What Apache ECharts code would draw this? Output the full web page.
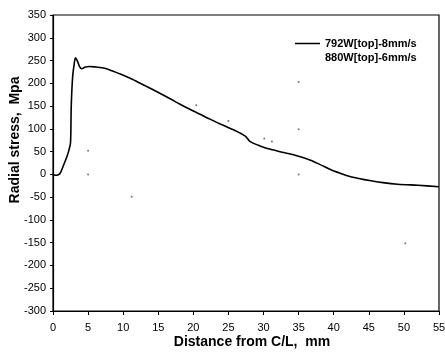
<!DOCTYPE html>
<html><head><meta charset="utf-8">
<script src="https://cdn.jsdelivr.net/npm/echarts@6/dist/echarts.min.js"></script>
<style>html,body{margin:0;padding:0;background:#fff}#c{width:445px;height:352px}</style>
</head><body><div id="c"></div>
<script>
var xTicks = [0,5,10,15,20,25,30,35,40,45,50,55];
var yTicks = [-300,-250,-200,-150,-100,-50,0,50,100,150,200,250,300,350];
var series1Name = '792W[top]-8mm/s';
var series2Name = '880W[top]-6mm/s';
var s1x = [0,0.5,1,1.5,2,2.3,2.5,2.6,2.8,3.0,3.2,3.5,3.8,4.1,4.6,5.2,6,7,8,9.5,11,12.7,14,16.7,18.1,20,22,23.9,26,27.4,28.1,29.6,31,32.9,35,36.7,38,39.6,41,42.4,45.3,47,49.1,52,55];
var s1y = [0,-2,2,20,40,55,70,150,215,240,256,248,236,232,236,237,236,234,230,221,211,198,188,166,154,139,124,110,96,84,72,62,55,48,40,31,22,10,2,-5,-14,-18,-21.5,-24,-27];
var s2x = [5,5,11.2,20.4,25,30.1,31.2,35,35,35,50.2];
var s2y = [0,52,-49,152,117,79,72,203,99,0,-151];

var font = 'Liberation Sans, Arial, sans-serif';
function pairs(xs, ys){ return xs.map(function(x,i){return [x, ys[i]];}); }
var chart = echarts.init(document.getElementById('c'), null, {renderer:'canvas'});
chart.setOption({
  animation:false,
  backgroundColor:'#fff',
  grid:{left:53, top:15, right:6, bottom:41, show:true, borderColor:'#000', borderWidth:1.2,
        containLabel:false, outerBoundsMode:'none'},
  legend:{
    orient:'vertical', left:290, top:33, itemWidth:25, itemHeight:12, itemGap:3,
    textStyle:{fontFamily:font, fontSize:11, fontWeight:'bold', color:'#000'},
    data:[
      {name:series1Name, icon:'path://M0,5L25,5L25,6.5L0,6.5Z'},
      {name:series2Name, icon:'rect', itemStyle:{opacity:0}}
    ]
  },
  xAxis:{
    type:'value', min:0, max:55, interval:5,
    name:'Distance from C/L,  mm', nameLocation:'middle', nameGap:24, nameMoveOverlap:false,
    nameTextStyle:{fontFamily:font, fontSize:14, fontWeight:'bold', color:'#000', verticalAlign:'top', padding:[0,0,0,12]},
    axisLine:{show:true, onZero:false, lineStyle:{color:'#000', width:1.2}},
    axisTick:{show:true, length:4, lineStyle:{color:'#000'}},
    axisLabel:{fontFamily:font, fontSize:11, color:'#000', margin:11},
    splitLine:{show:false}
  },
  yAxis:{
    type:'value', min:-300, max:350, interval:50,
    name:'Radial stress,  Mpa', nameLocation:'middle', nameGap:31, nameMoveOverlap:false,
    nameTextStyle:{fontFamily:font, fontSize:14, fontWeight:'bold', color:'#000', padding:[0,0,0,46]},
    axisLine:{show:true, onZero:false, lineStyle:{color:'#000', width:1.2}},
    axisTick:{show:true, length:3, lineStyle:{color:'#000'}},
    axisLabel:{fontFamily:font, fontSize:11, color:'#000', margin:7},
    splitLine:{show:false}
  },
  series:[
    {name:series1Name, type:'line', data:pairs(s1x,s1y), showSymbol:false, smooth:0.3,
     lineStyle:{color:'#000', width:1.6}, itemStyle:{color:'#000'}},
    {name:series2Name, type:'scatter', data:pairs(s2x,s2y), symbolSize:2,
     itemStyle:{color:'#555'}}
  ]
});
</script></body></html>
